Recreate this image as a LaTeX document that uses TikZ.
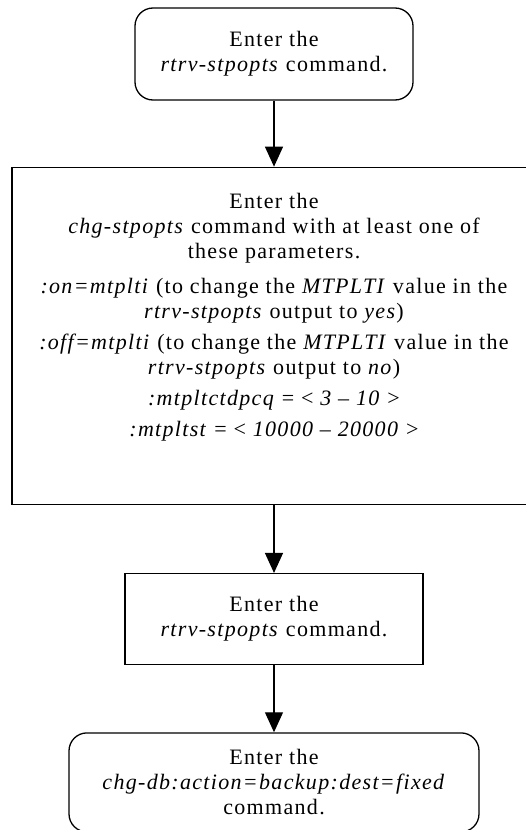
\documentclass[tikz,border=0pt]{standalone}
\usepackage{fontspec}
\setmainfont{Liberation Serif}[LetterSpace=6]
\usetikzlibrary{positioning, arrows.meta}

\begin{document}
\begin{tikzpicture}[node distance=66pt, x=1pt, y=1pt,
		font=\fontsize{22}{25}\selectfont,
		stepbox/.style={draw, line width=1.3pt, align=center, inner sep=0pt},
		endbox/.style={stepbox, rounded corners=18pt},
		flow/.style={-{Triangle[length=20pt, width=18pt]}, line width=1.2pt}]
			\useasboundingbox (0,0) rectangle (526,-830);
			\node [endbox, minimum width=278pt, minimum height=92pt] (rtrv) at (274,-54) {Enter the\\\textit{rtrv-stpopts} command.};
			\node [stepbox, below=of rtrv, minimum width=524pt, minimum height=337pt] (chgstp) {Enter the\\
				\textit{chg-stpopts} command with at least one of\\
				these parameters.\\[10pt]
				\textit{:on=mtplti} (to change the \textit{MTPLTI} value in the\\
				\textit{rtrv-stpopts} output to \textit{yes})\\[6pt]
				\textit{:off=mtplti} (to change the \textit{MTPLTI} value in the\\
				\textit{rtrv-stpopts} output to \textit{no})\\[6pt]
				\textit{:mtpltctdpcq} = < \textit{3 -- 10} >\\[6pt]
				\textit{:mtpltst} = < \textit{10000 -- 20000} >\\[17pt]~};
			\node [stepbox, below=68pt of chgstp, minimum width=298pt, minimum height=91pt] (rtrvtwo) {Enter the\\\textit{rtrv-stpopts} command.};
			\node [endbox, below=67pt of rtrvtwo, minimum width=410pt, minimum height=99pt] (chgdb) {Enter the\\\textit{chg-db:action=backup:dest=fixed}\\command.};
			
			\draw [flow] (rtrv) -- (chgstp);
			\draw [flow] (chgstp) -- (rtrvtwo);
			\draw [flow] (rtrvtwo) -- (chgdb);
		\end{tikzpicture}
\end{document}
